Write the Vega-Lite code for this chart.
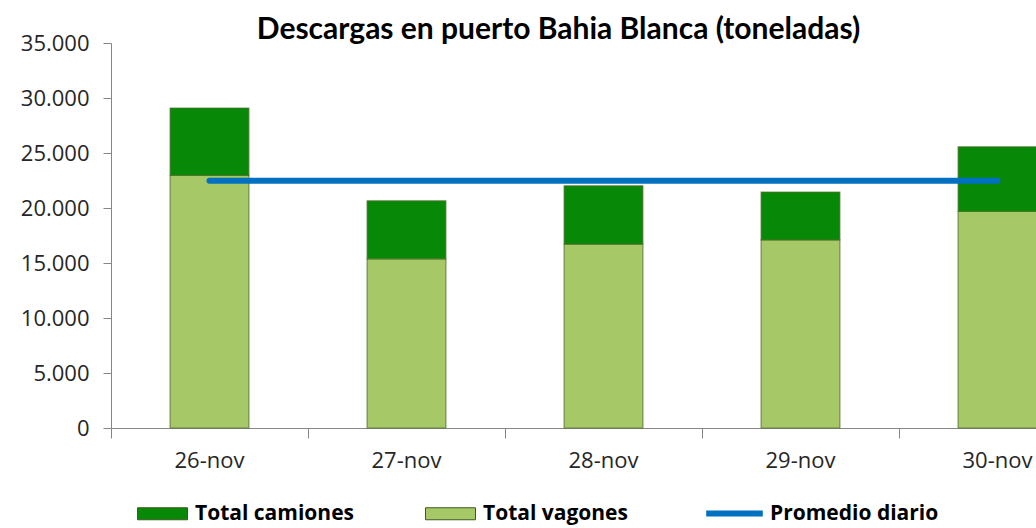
{
  "$schema": "https://vega.github.io/schema/vega-lite/v6.json",
  "autosize": "none",
  "width": 925,
  "height": 385,
  "padding": {"left": 111, "top": 43, "right": 0, "bottom": 100},
  "background": "white",
  "config": {
    "view": {"stroke": null},
    "font": "Open Sans",
    "axis": {"labelFont": "Open Sans", "labelFontSize": 22, "labelColor": "#262626", "domainColor": "#868686", "tickColor": "#868686", "grid": false, "title": null},
    "legend": {"labelFont": "Open Sans", "labelFontSize": 21, "labelFontWeight": "bold", "labelColor": "#000000", "padding": 0, "labelLimit": 300}
  },
  "title": {
    "text": "Descargas en puerto Bahia Blanca (toneladas)",
    "font": "Lato",
    "fontSize": 30,
    "fontWeight": "bold",
    "color": "#000000",
    "anchor": "middle",
    "frame": "group",
    "dx": -15,
    "offset": -13
  },
  "data": {
    "values": [
      {"fecha": "26-nov", "serie": "Total vagones", "valor": 22960},
      {"fecha": "26-nov", "serie": "Total camiones", "valor": 6130},
      {"fecha": "27-nov", "serie": "Total vagones", "valor": 15380},
      {"fecha": "27-nov", "serie": "Total camiones", "valor": 5270},
      {"fecha": "28-nov", "serie": "Total vagones", "valor": 16710},
      {"fecha": "28-nov", "serie": "Total camiones", "valor": 5310},
      {"fecha": "29-nov", "serie": "Total vagones", "valor": 17100},
      {"fecha": "29-nov", "serie": "Total camiones", "valor": 4350},
      {"fecha": "30-nov", "serie": "Total vagones", "valor": 19680},
      {"fecha": "30-nov", "serie": "Total camiones", "valor": 5890},
      {"fecha": "26-nov", "serie": "Promedio diario", "valor": 22470},
      {"fecha": "27-nov", "serie": "Promedio diario", "valor": 22470},
      {"fecha": "28-nov", "serie": "Promedio diario", "valor": 22470},
      {"fecha": "29-nov", "serie": "Promedio diario", "valor": 22470},
      {"fecha": "30-nov", "serie": "Promedio diario", "valor": 22470}
    ]
  },
  "encoding": {
    "x": {
      "field": "fecha", "type": "ordinal", "sort": null,
      "scale": {"range": [0, 985], "paddingInner": 0, "paddingOuter": 0},
      "axis": {"labelAngle": 0, "bandPosition": 0, "tickSize": 10, "labelPadding": 12}
    },
    "y": {
      "field": "valor", "type": "quantitative",
      "scale": {"domain": [0, 35000], "nice": false},
      "axis": {"values": [0, 5000, 10000, 15000, 20000, 25000, 30000, 35000], "tickSize": 8, "labelPadding": 14, "labelExpr": "replace(format(datum.value, ','), ',', '.')"}
    }
  },
  "layer": [
    {
      "transform": [{"filter": "datum.serie !== 'Promedio diario'"}],
      "mark": {"type": "bar", "width": {"band": 0.4}, "stroke": "#4f6e28", "strokeWidth": 1.2, "strokeOpacity": 0.7},
      "encoding": {
        "y": {"field": "valor", "type": "quantitative", "stack": "zero"},
        "fill": {
          "field": "serie", "type": "nominal",
          "scale": {"domain": ["Total camiones", "Total vagones"], "range": ["#078807", "#A6C866"]},
          "legend": {"title": null, "orient": "none", "direction": "horizontal", "legendX": 26, "legendY": 445, "symbolType": "M-1,-0.24H1V0.24H-1Z", "symbolSize": 2500, "symbolStrokeColor": "#3d5a1e", "symbolStrokeWidth": 1, "labelOffset": 7, "columnPadding": 69}
        },
        "order": {"field": "serie", "sort": "descending"}
      }
    },
    {
      "transform": [{"filter": "datum.serie === 'Promedio diario'"}],
      "mark": {"type": "line", "strokeWidth": 6, "strokeCap": "round"},
      "encoding": {
        "stroke": {
          "field": "serie", "type": "nominal",
          "scale": {"domain": ["Promedio diario"], "range": ["#0070C0"]},
          "legend": {"title": null, "orient": "none", "legendX": 592, "legendY": 439, "symbolType": "stroke", "symbolSize": 3200, "symbolStrokeWidth": 6, "labelOffset": 4}
        }
      }
    }
  ]
}
